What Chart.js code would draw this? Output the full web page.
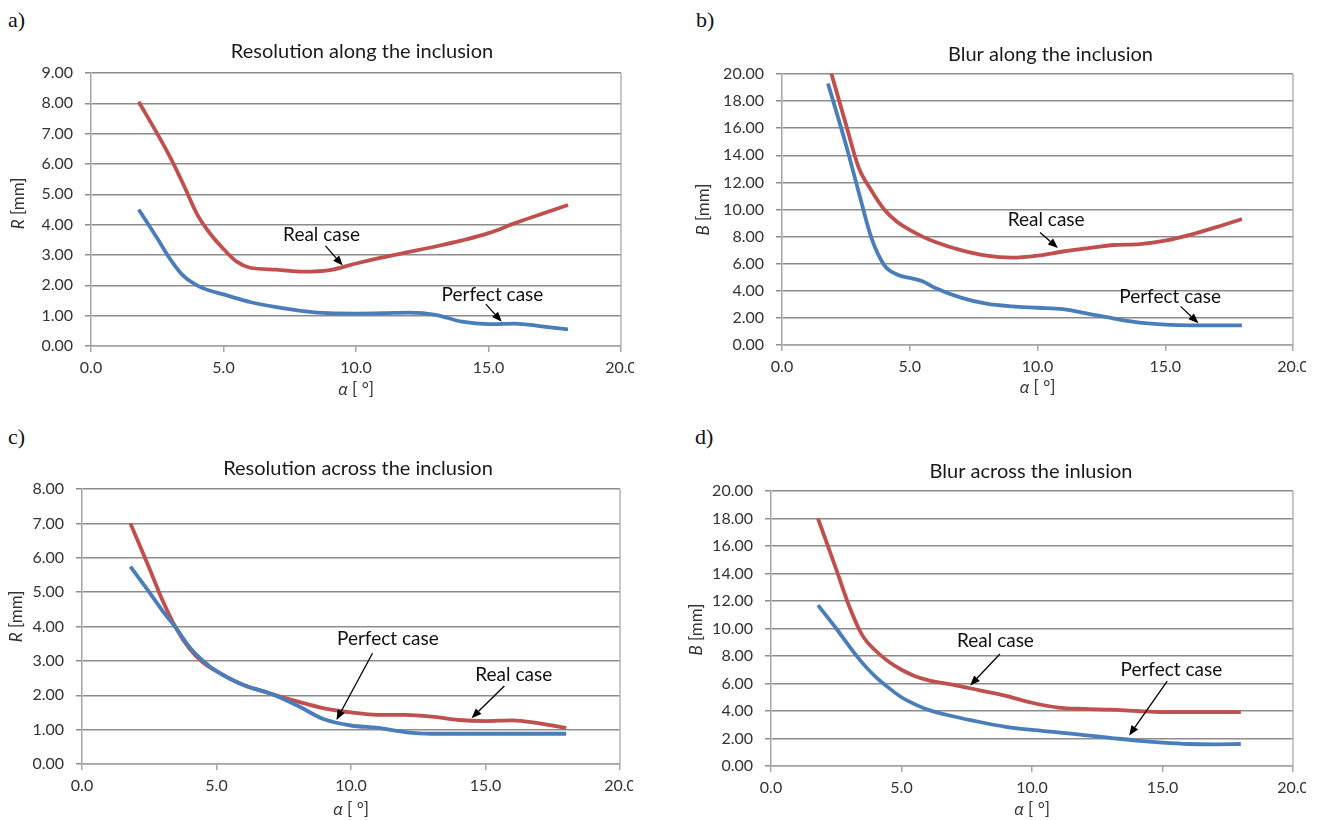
<!DOCTYPE html>
<html><head><meta charset="utf-8">
<script src="https://cdn.jsdelivr.net/npm/chart.js@4.4.0/dist/chart.umd.min.js"></script>
<style>
body{margin:0;background:#fff;width:1326px;height:820px;overflow:hidden;position:relative}
.lab{position:absolute;font-family:"Liberation Serif","DejaVu Serif",serif;font-size:22px;color:#111;line-height:1}
canvas{position:absolute}
</style></head><body>
<div class="lab" style="left:8px;top:9px">a)</div>
<div class="lab" style="left:696px;top:9px">b)</div>
<div class="lab" style="left:8px;top:426px">c)</div>
<div class="lab" style="left:695px;top:426px">d)</div>
<canvas id="ca" width="634" height="372" style="left:0;top:30px"></canvas>
<canvas id="cb" width="646" height="372" style="left:660px;top:30px"></canvas>
<canvas id="cc" width="633" height="380" style="left:0;top:440px"></canvas>
<canvas id="cd" width="646" height="380" style="left:660px;top:440px"></canvas>
<script>
// ---- data ----
const alpha = [1.8, 2.5, 3, 3.5, 4, 4.5, 5, 5.5, 6, 7, 8, 9, 10, 11, 12, 13, 14, 15, 16, 17, 18];
const xTicks = [0, 5, 10, 15, 20];

const realA    = [8.05, 7.0, 6.2, 5.3, 4.35, 3.7, 3.2, 2.78, 2.58, 2.52, 2.45, 2.5, 2.72, 2.92, 3.1, 3.28, 3.48, 3.72, 4.05, 4.35, 4.65];
const perfectA = [4.5, 3.55, 2.85, 2.3, 2.0, 1.82, 1.7, 1.57, 1.45, 1.28, 1.15, 1.08, 1.07, 1.08, 1.1, 1.03, 0.8, 0.72, 0.74, 0.65, 0.55];

const realB    = [20.9, 16.3, 13.1, 11.4, 10.0, 9.1, 8.5, 8.0, 7.6, 7.0, 6.6, 6.45, 6.6, 6.9, 7.15, 7.38, 7.45, 7.7, 8.15, 8.7, 9.3];
const perfectB = [19.3, 14.8, 11.3, 7.9, 5.9, 5.2, 4.95, 4.7, 4.2, 3.5, 3.05, 2.85, 2.75, 2.65, 2.3, 1.95, 1.65, 1.5, 1.45, 1.45, 1.45];

const realC    = [7.0, 5.7, 4.75, 3.95, 3.35, 2.95, 2.7, 2.48, 2.3, 2.05, 1.82, 1.62, 1.5, 1.43, 1.43, 1.38, 1.28, 1.25, 1.27, 1.18, 1.05];
const perfectC = [5.74, 5.0, 4.45, 3.95, 3.4, 3.0, 2.7, 2.48, 2.3, 2.05, 1.7, 1.3, 1.12, 1.05, 0.93, 0.88, 0.88, 0.88, 0.88, 0.88, 0.88];

const realD    = [18.0, 14.3, 11.6, 9.5, 8.4, 7.6, 7.0, 6.55, 6.25, 5.9, 5.5, 5.1, 4.6, 4.25, 4.15, 4.1, 4.0, 3.92, 3.92, 3.92, 3.92];
const perfectD = [11.7, 10.0, 8.7, 7.5, 6.5, 5.7, 5.0, 4.5, 4.1, 3.6, 3.2, 2.85, 2.62, 2.45, 2.25, 2.05, 1.85, 1.7, 1.6, 1.58, 1.6];

const titles = ["Resolution along the inclusion", "Blur along the inclusion", "Resolution across the inclusion", "Blur across the inlusion"];
const yVars = ["R", "B", "R", "B"];
const yMaxes = [9, 20, 8, 20];
const ySteps = [1, 2, 1, 2];

// annotations (data units): text position, arrow start, arrow end
const notesA = [
  {text: "Real case", tx: 8.7, ty: 3.67, x1: 8.85, y1: 3.3, x2: 9.5, y2: 2.65},
  {text: "Perfect case", tx: 15.15, ty: 1.7, x1: 14.9, y1: 1.38, x2: 15.5, y2: 0.8}
];
const notesB = [
  {text: "Real case", tx: 10.34, ty: 9.26, x1: 10.1, y1: 8.3, x2: 10.8, y2: 7.15},
  {text: "Perfect case", tx: 15.19, ty: 3.58, x1: 15.6, y1: 2.85, x2: 16.3, y2: 1.6}
];
const notesC = [
  {text: "Perfect case", tx: 11.37, ty: 3.63, x1: 10.8, y1: 3.22, x2: 9.46, y2: 1.28},
  {text: "Real case", tx: 16.05, ty: 2.59, x1: 15.7, y1: 2.27, x2: 14.48, y2: 1.33}
];
const notesD = [
  {text: "Real case", tx: 8.6, ty: 9.07, x1: 8.77, y1: 8.15, x2: 7.63, y2: 5.85},
  {text: "Perfect case", tx: 15.34, ty: 6.96, x1: 15.18, y1: 6.17, x2: 13.72, y2: 2.22}
];

const RED = '#c0504d', BLUE = '#4a7ebb';
const FONT = 'Lato, "Open Sans", sans-serif';

function drawMixed(ctx, parts) {
  let w = 0;
  for (const [t, f] of parts) { ctx.font = f; w += ctx.measureText(t).width; }
  let x = -w / 2;
  ctx.textAlign = 'left'; ctx.textBaseline = 'middle';
  for (const [t, f] of parts) { ctx.font = f; ctx.fillText(t, x, 0); x += ctx.measureText(t).width; }
}
function arrow(ctx, x1, y1, x2, y2) {
  ctx.strokeStyle = '#000'; ctx.fillStyle = '#000'; ctx.lineWidth = 1.3;
  const ang = Math.atan2(y2 - y1, x2 - x1), L = 10, W = 4;
  const bx = x2 - L * Math.cos(ang), by = y2 - L * Math.sin(ang);
  ctx.beginPath(); ctx.moveTo(x1, y1); ctx.lineTo(bx, by); ctx.stroke();
  ctx.beginPath(); ctx.moveTo(x2, y2);
  ctx.lineTo(bx + W * Math.sin(ang), by - W * Math.cos(ang));
  ctx.lineTo(bx - W * Math.sin(ang), by + W * Math.cos(ang));
  ctx.closePath(); ctx.fill();
}

const deco = {
  id: 'deco',
  beforeDatasetsDraw(chart, args, o) {
    const {ctx, chartArea: a} = chart;
    ctx.save(); ctx.strokeStyle = '#b4b4b4'; ctx.lineWidth = 1.5;
    ctx.beginPath(); ctx.moveTo(a.right, a.top); ctx.lineTo(a.right, a.bottom); ctx.stroke();
    ctx.restore();
  },
  afterDraw(chart, args, o) {
    const {ctx, chartArea: a, scales: {x, y}} = chart;
    ctx.save();
    ctx.fillStyle = '#1a1a1a';
    ctx.font = '20px ' + FONT; ctx.textAlign = 'center'; ctx.textBaseline = 'middle';
    ctx.fillText(o.title, (a.left + a.right) / 2 + o.titleDx, a.top + o.titleDy);
    ctx.fillStyle = '#333';
    ctx.save(); ctx.translate(o.yTitleX, (a.top + a.bottom) / 2 + o.yTitleDy); ctx.rotate(-Math.PI / 2);
    drawMixed(ctx, [[o.yVar, 'italic 17px ' + FONT], [' [mm]', '17px ' + FONT]]);
    ctx.restore();
    ctx.save(); ctx.translate((a.left + a.right) / 2, a.bottom + o.xTitleDy);
    drawMixed(ctx, [['α', 'italic 17px "Open Sans", sans-serif'], [' [ °]', '17px ' + FONT]]);
    ctx.restore();
    for (const n of o.notes) {
      ctx.fillStyle = '#111';
      ctx.font = '19px ' + FONT; ctx.textAlign = 'center'; ctx.textBaseline = 'middle';
      ctx.fillText(n.text, x.getPixelForValue(n.tx), y.getPixelForValue(n.ty));
      arrow(ctx, x.getPixelForValue(n.x1), y.getPixelForValue(n.y1), x.getPixelForValue(n.x2), y.getPixelForValue(n.y2));
    }
    ctx.restore();
  }
};

function pts(ys) { return alpha.map((a, i) => ({x: a, y: ys[i]})); }

function make(id, idx, real, perfect, notes, L) {
  new Chart(document.getElementById(id), {
    type: 'line',
    data: {datasets: [
      {label: 'Perfect case', data: pts(perfect), borderColor: BLUE, borderWidth: 3.8, pointRadius: 0, cubicInterpolationMode: 'monotone', fill: false},
      {label: 'Real case', data: pts(real), borderColor: RED, borderWidth: 3.8, pointRadius: 0, cubicInterpolationMode: 'monotone', fill: false}
    ]},
    options: {
      responsive: false, animation: false, events: [],
      layout: {padding: {left: 0, right: L.padR, top: L.padT, bottom: 0}},
      plugins: {
        legend: {display: false}, title: {display: false}, tooltip: {enabled: false},
        deco: {title: titles[idx], yVar: yVars[idx], notes: notes, titleDx: L.titleDx, titleDy: L.titleDy,
               yTitleX: L.yTitleX, yTitleDy: L.yTitleDy, xTitleDy: L.xTitleDy}
      },
      scales: {
        x: {type: 'linear', min: 0, max: 20,
            afterBuildTicks(s) { s.ticks = xTicks.map(v => ({value: v})); },
            ticks: {callback: v => v.toFixed(1), font: {family: FONT, size: 16}, color: '#333', padding: 6, maxRotation: 0, autoSkip: false},
            grid: {drawOnChartArea: false, drawTicks: true, tickLength: 6, color: '#a6a6a6', lineWidth: 1.5},
            border: {color: '#a6a6a6', width: 1.5},
            afterFit(s) { s.height = L.xH; s.paddingLeft = 0; s.paddingRight = 0; }},
        y: {min: 0, max: yMaxes[idx],
            ticks: {stepSize: ySteps[idx], callback: v => v.toFixed(2), font: {family: FONT, size: 16}, color: '#333', padding: 12},
            grid: {color: '#8c8c8c', lineWidth: 1.5, drawTicks: true, tickLength: 6},
            border: {color: '#a6a6a6', width: 1.5},
            afterFit(s) { s.width = L.yW; s.paddingTop = 0; s.paddingBottom = 0; }}
      }
    },
    plugins: [deco]
  });
}

make('ca', 0, realA, perfectA, notesA, {padR: 13, padT: 43, yW: 91, xH: 56, titleDx: 6, titleDy: -21, yTitleX: 19, yTitleDy: -6, xTitleDy: 44});
make('cb', 1, realB, perfectB, notesB, {padR: 13, padT: 44, yW: 122, xH: 57, titleDx: 13, titleDy: -19, yTitleX: 44, yTitleDy: 0, xTitleDy: 43});
make('cc', 2, realC, perfectC, notesC, {padR: 13, padT: 49, yW: 82, xH: 56, titleDx: 7, titleDy: -20, yTitleX: 17, yTitleDy: -10, xTitleDy: 46});
make('cd', 3, realD, perfectD, notesD, {padR: 13, padT: 51, yW: 111, xH: 54, titleDx: -1, titleDy: -19, yTitleX: 37, yTitleDy: 1, xTitleDy: 44});
</script>
</body></html>
